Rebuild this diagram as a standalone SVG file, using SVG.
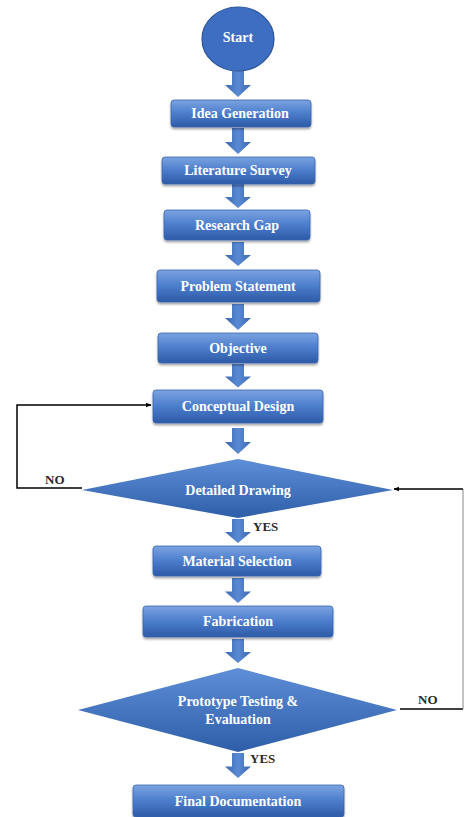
<svg xmlns="http://www.w3.org/2000/svg" width="465" height="817" viewBox="0 0 465 817">
<defs>
<linearGradient id="gBox" x1="0" y1="0" x2="0" y2="1">
<stop offset="0" stop-color="#7ba3e0"/>
<stop offset="0.5" stop-color="#4b7dcc"/>
<stop offset="1" stop-color="#2d5aa6"/>
</linearGradient>
<linearGradient id="gDia" x1="0" y1="0" x2="0" y2="1">
<stop offset="0" stop-color="#5e8ed8"/>
<stop offset="1" stop-color="#2f5ea9"/>
</linearGradient>
<linearGradient id="gArr" x1="0" y1="0" x2="1" y2="0">
<stop offset="0" stop-color="#3b68b4"/>
<stop offset="0.5" stop-color="#5a8ad4"/>
<stop offset="1" stop-color="#3b68b4"/>
</linearGradient>
<filter id="sh" x="-10%" y="-20%" width="120%" height="150%">
<feGaussianBlur in="SourceAlpha" stdDeviation="1.2"/>
<feOffset dx="0" dy="1.5" result="b"/>
<feComponentTransfer><feFuncA type="linear" slope="0.35"/></feComponentTransfer>
<feMerge><feMergeNode/><feMergeNode in="SourceGraphic"/></feMerge>
</filter>
<marker id="ah" viewBox="0 0 10 10" refX="9" refY="5" markerWidth="6" markerHeight="6" orient="auto" markerUnits="userSpaceOnUse">
<path d="M0,1 L10,5 L0,9 z" fill="#000"/>
</marker>
<path id="arr" d="M-6,0 H6 V14 H13 L0,26 L-13,14 H-6 Z"/>
</defs>
<style>
.box{fill:url(#gBox);stroke:#3a66b0;stroke-width:0.8;filter:url(#sh)}
.dia{fill:url(#gDia);stroke:none}
.t{font-family:"Liberation Serif","Times New Roman",serif;font-weight:bold;font-size:14px;fill:#ffffff;text-anchor:middle}
.lbl{font-family:"Liberation Serif","Times New Roman",serif;font-weight:bold;font-size:13px;fill:#2a2a2a}
.ln{fill:none;stroke:#000;stroke-width:1.5}
.lg{fill:none;stroke:#888;stroke-width:1}
.ar{fill:url(#gArr)}
</style>
<rect width="465" height="817" fill="#ffffff"/>

<g id="connectors">
<use href="#arr" class="ar" transform="translate(238,71)"/>
<use href="#arr" class="ar" transform="translate(238,128)"/>
<use href="#arr" class="ar" transform="translate(238,184) scale(1,0.92)"/>
<use href="#arr" class="ar" transform="translate(238,242) scale(1,0.92)"/>
<use href="#arr" class="ar" transform="translate(238,304)"/>
<use href="#arr" class="ar" transform="translate(238,364) scale(1,0.9)"/>
<use href="#arr" class="ar" transform="translate(238,428)"/>
<use href="#arr" class="ar" transform="translate(238,519) scale(1,0.92)"/>
<use href="#arr" class="ar" transform="translate(238,578) scale(1,0.96)"/>
<use href="#arr" class="ar" transform="translate(238,639) scale(1,0.92)"/>
<use href="#arr" class="ar" transform="translate(238,753) scale(1,0.96)"/>
<polyline class="ln" points="82,488 17,488 17,405 151,405" marker-end="url(#ah)"/>
<polyline class="ln" points="400,709 463,709"/>
<polyline class="lg" points="463,709 463,489"/>
<polyline class="ln" points="463,489 394,489" marker-end="url(#ah)"/>
<text class="lbl" x="45" y="484">NO</text>
<text class="lbl" x="418" y="704">NO</text>
<text class="lbl" x="253" y="531">YES</text>
<text class="lbl" x="250" y="763">YES</text>
</g>

<g id="start">
<ellipse cx="238" cy="39" rx="36" ry="32" fill="#3e6ec2" stroke="#2c5498" stroke-width="1.2"/>
<text class="t" x="238" y="42">Start</text>
</g>
<g id="idea"><rect class="box" x="171" y="100" width="140" height="27" rx="3"/><text class="t" x="240" y="118">Idea Generation</text></g>
<g id="literature"><rect class="box" x="162" y="157" width="153" height="27" rx="3"/><text class="t" x="238" y="175">Literature Survey</text></g>
<g id="gap"><rect class="box" x="164" y="210" width="146" height="30" rx="3"/><text class="t" x="237" y="230">Research Gap</text></g>
<g id="problem"><rect class="box" x="157" y="270" width="163" height="32" rx="3"/><text class="t" x="238" y="291">Problem Statement</text></g>
<g id="objective"><rect class="box" x="158" y="333" width="160" height="30" rx="3"/><text class="t" x="238" y="353">Objective</text></g>
<g id="conceptual"><rect class="box" x="153" y="390" width="170" height="33" rx="3"/><text class="t" x="238" y="411">Conceptual Design</text></g>
<g id="detailed"><polygon class="dia" points="82,490 238,459 393,490 238,518"/><text class="t" x="238" y="495">Detailed Drawing</text></g>
<g id="material"><rect class="box" x="153" y="546" width="168" height="30" rx="3"/><text class="t" x="237" y="566">Material Selection</text></g>
<g id="fabrication"><rect class="box" x="143" y="606" width="190" height="31" rx="3"/><text class="t" x="238" y="626">Fabrication</text></g>
<g id="prototype"><polygon class="dia" points="78,710 238,668 397,710 238,752"/><text class="t" x="238" y="706">Prototype Testing &amp;</text><text class="t" x="238" y="724">Evaluation</text></g>
<g id="final"><rect class="box" x="133" y="785" width="211" height="32" rx="3"/><text class="t" x="238" y="806">Final Documentation</text></g>
</svg>
